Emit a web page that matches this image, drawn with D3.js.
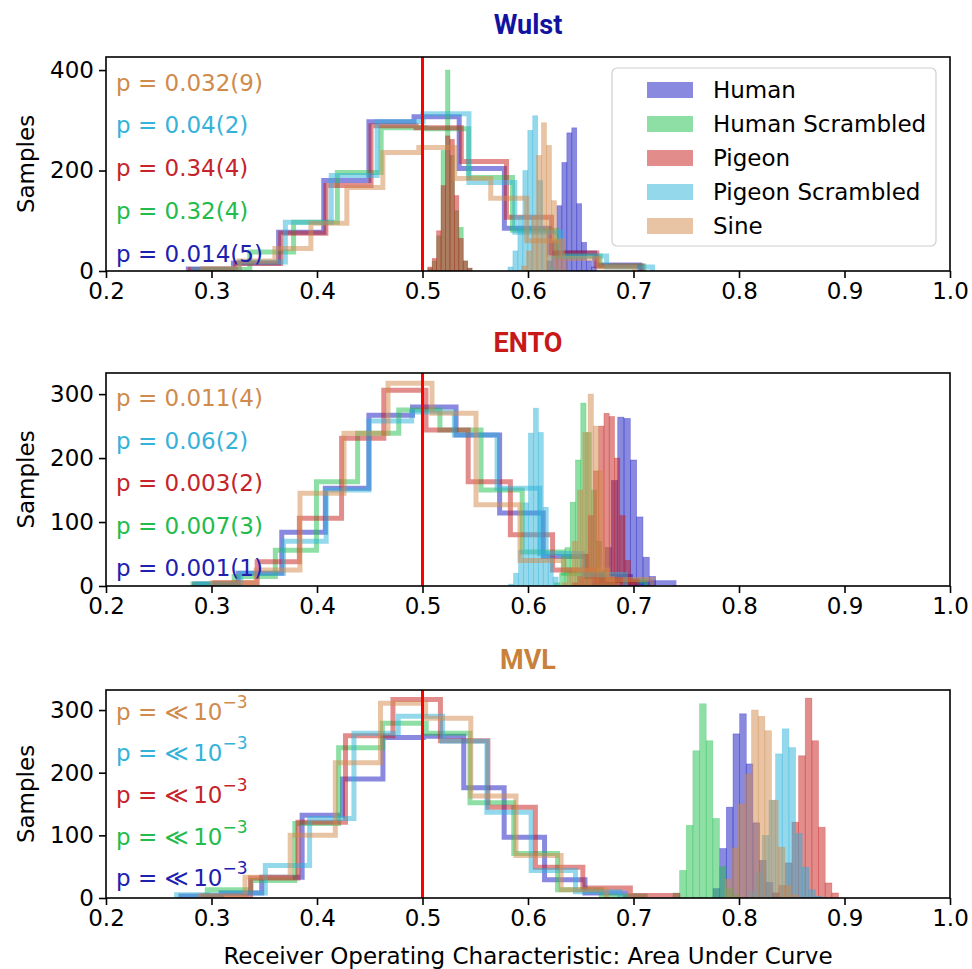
<!DOCTYPE html>
<html><head><meta charset="utf-8">
<script src="https://cdn.jsdelivr.net/npm/d3@7"></script>
<style>body{margin:0;background:#fff}</style>
</head><body><svg id="c" width="972" height="969"></svg>
<script>
// ---------- DATA ----------
const seriesNames = ["Human", "Human Scrambled", "Pigeon", "Pigeon Scrambled", "Sine"];
const regionNames = ["Wulst", "ENTO", "MVL"];
const xTickValues = [0.2, 0.3, 0.4, 0.5, 0.6, 0.7, 0.8, 0.9, 1.0];
const wulstYTicks = [0, 200, 400];
const entoYTicks = [0, 100, 200, 300];
const mvlYTicks = [0, 100, 200, 300];
const chanceLevel = 0.5;

// Null (scrambled-label) distributions: first bin edge, bin width, counts
const wulstNullStart = [0.278, 0.2948, 0.280, 0.283, 0.2919];
const wulstNullWidth = [0.0428, 0.0415, 0.0428, 0.0435, 0.0341];
const wulstNullCounts = [
  [4, 16, 77, 180, 297, 307, 204, 85, 36, 12],
  [3, 38, 97, 196, 285, 283, 186, 81, 30, 10],
  [3, 15, 75, 170, 289, 285, 218, 107, 36, 10],
  [3, 18, 97, 190, 297, 313, 176, 77, 30, 8],
  [5, 20, 45, 95, 166, 236, 246, 184, 145, 60, 25, 8]
];
// Real distributions
const wulstRealStart = [0.618, 0.505, 0.505, 0.581, 0.594];
const wulstRealWidth = [0.0047, 0.0042, 0.0042, 0.0047, 0.0047];
const wulstRealCounts = [
  [20, 60, 130, 216, 275, 285, 134, 57, 20, 8],
  [5, 20, 70, 240, 400, 230, 120, 87, 20, 5],
  [8, 25, 80, 170, 269, 262, 150, 65, 20, 6],
  [8, 40, 110, 200, 280, 309, 180, 80, 30, 8],
  [10, 40, 110, 230, 295, 250, 140, 60, 20]
];
const wulstPValues = ["0.014(5)", "0.32(4)", "0.34(4)", "0.04(2)", "0.032(9)"];

const entoNullStart = [0.284, 0.2825, 0.3033, 0.2872, 0.3005];
const entoNullWidth = [0.0413, 0.039, 0.040, 0.0405, 0.0417];
const entoNullCounts = [
  [3, 20, 84, 153, 267, 280, 236, 114, 46, 15, 5],
  [3, 15, 56, 163, 239, 275, 244, 150, 53, 20, 8],
  [5, 38, 106, 231, 306, 244, 163, 80, 25, 8],
  [3, 20, 70, 150, 258, 272, 236, 153, 51, 18],
  [5, 25, 145, 239, 317, 270, 127, 40, 25, 10]
];
const entoRealStart = [0.661, 0.625, 0.642, 0.5816, 0.632];
const entoRealWidth = [0.006, 0.005, 0.005, 0.0047, 0.005];
const entoRealCounts = [
  [5, 20, 60, 165, 264, 262, 197, 108, 45, 15],
  [5, 20, 60, 131, 197, 286, 240, 150, 70, 25, 8],
  [5, 15, 50, 110, 180, 250, 270, 265, 200, 110, 40, 10],
  [3, 20, 56, 130, 239, 278, 240, 123, 45, 14],
  [5, 20, 70, 150, 240, 300, 250, 180, 60, 15, 5]
];
const entoPValues = ["0.001(1)", "0.007(3)", "0.003(2)", "0.06(2)", "0.011(4)"];

const mvlNullStart = [0.271, 0.296, 0.292, 0.267, 0.289];
const mvlNullWidth = [0.0383, 0.0415, 0.045, 0.042, 0.0428];
const mvlNullCounts = [
  [3, 8, 33, 132, 190, 256, 258, 176, 97, 29, 8],
  [13, 28, 119, 240, 279, 263, 152, 71, 13, 3],
  [3, 32, 121, 259, 317, 251, 145, 49, 16, 4],
  [5, 8, 52, 127, 263, 290, 250, 137, 44, 10],
  [3, 33, 100, 216, 311, 287, 163, 68, 13]
];
const mvlRealStart = [0.7754, 0.7374, 0.8313, 0.8095, 0.7867];
const mvlRealWidth = [0.0063, 0.0063, 0.0063, 0.0063, 0.0063];
const mvlRealCounts = [
  [15, 79, 145, 262, 294, 214, 120, 60, 25, 8],
  [8, 44, 116, 235, 310, 251, 127, 50, 15, 5],
  [8, 20, 56, 121, 227, 319, 251, 113, 24, 8],
  [10, 40, 100, 156, 230, 270, 240, 103, 49, 13, 3],
  [30, 80, 150, 198, 300, 290, 267, 156, 81, 20, 5]
];
const mvlPValues = ["≪ 10^-3", "≪ 10^-3", "≪ 10^-3", "≪ 10^-3", "≪ 10^-3"];

// ---------- STYLE ----------
const seriesColors = ["#1414c0", "#1ec04b", "#c81919", "#29b1d9", "#d18949"];
const textColors = ["#2020b0", "#22bb4c", "#c4242a", "#35b2da", "#cf8a4c"];
const titleColors = ["#1212a0", "#c81919", "#c8813a"];
const FONT = "DejaVu Sans";
const FS = 23;

const svg = d3.select("#c");
const xLeft = 106, xRight = 950;
const x = d3.scaleLinear().domain([0.2, 1.0]).range([xLeft, xRight]);

const panels = [
  {top: 57, bottom: 271, ymax: 426, yTicks: wulstYTicks, ns: wulstNullStart, nw: wulstNullWidth, nc: wulstNullCounts,
   rs: wulstRealStart, rw: wulstRealWidth, rc: wulstRealCounts, p: wulstPValues, titleY: 25, pOff: 0.12, legend: true},
  {top: 373, bottom: 586, ymax: 333, yTicks: entoYTicks, ns: entoNullStart, nw: entoNullWidth, nc: entoNullCounts,
   rs: entoRealStart, rw: entoRealWidth, rc: entoRealCounts, p: entoPValues, titleY: 343, pOff: 0.117, legend: false},
  {top: 690, bottom: 898, ymax: 332, yTicks: mvlYTicks, ns: mvlNullStart, nw: mvlNullWidth, nc: mvlNullCounts,
   rs: mvlRealStart, rw: mvlRealWidth, rc: mvlRealCounts, p: mvlPValues, titleY: 660, pOff: 0.105, legend: false}
];

panels.forEach((P, pi) => {
  const y = d3.scaleLinear().domain([0, P.ymax]).range([P.bottom, P.top]);
  const g = svg.append("g");
  const clipId = "clip" + pi;
  svg.append("clipPath").attr("id", clipId).append("rect")
    .attr("x", xLeft).attr("y", P.top).attr("width", xRight - xLeft).attr("height", P.bottom - P.top);
  const plot = g.append("g").attr("clip-path", `url(#${clipId})`);

  seriesNames.forEach((name, si) => {
    // null step histogram
    const counts = P.nc[si];
    const edges = counts.map((c, k) => P.ns[si] + k * P.nw[si]).concat([P.ns[si] + counts.length * P.nw[si]]);
    const pts = [[edges[0], 0]];
    counts.forEach((c, k) => { pts.push([edges[k], c]); pts.push([edges[k + 1], c]); });
    pts.push([edges[edges.length - 1], 0]);
    plot.append("path")
      .attr("d", d3.line().x(d => x(d[0])).y(d => y(d[1]))(pts))
      .attr("fill", "none").attr("stroke", seriesColors[si]).attr("stroke-opacity", 0.5)
      .attr("stroke-width", 5).attr("stroke-linejoin", "miter");
    // real filled histogram
    const rc = P.rc[si];
    plot.append("g").selectAll("rect").data(rc).join("rect")
      .attr("x", (d, k) => x(P.rs[si] + k * P.rw[si]))
      .attr("width", (d, k) => x(P.rs[si] + (k + 1) * P.rw[si]) - x(P.rs[si] + k * P.rw[si]))
      .attr("y", d => y(d)).attr("height", d => y(0) - y(d))
      .attr("fill", seriesColors[si]).attr("fill-opacity", 0.5)
      .attr("stroke", seriesColors[si]).attr("stroke-opacity", 0.35).attr("stroke-width", 0.7);
  });

  // chance line
  plot.append("line").attr("x1", x(chanceLevel)).attr("x2", x(chanceLevel))
    .attr("y1", P.top).attr("y2", P.bottom).attr("stroke", "#ff0000").attr("stroke-width", 3);

  // axes
  const xa = g.append("g").attr("transform", `translate(0,${P.bottom})`)
    .call(d3.axisBottom(x).tickValues(xTickValues).tickFormat(d3.format(".1f")).tickSize(7).tickPadding(5).tickSizeOuter(0));
  const ya = g.append("g").attr("transform", `translate(${xLeft},0)`)
    .call(d3.axisLeft(y).tickValues(P.yTicks).tickSize(7).tickPadding(5).tickSizeOuter(0));
  [xa, ya].forEach(a => {
    a.select(".domain").remove();
    a.selectAll("line").attr("stroke", "#000").attr("stroke-width", 1.6);
    a.selectAll("text").attr("font-family", FONT).attr("font-size", FS).attr("fill", "#000");
  });
  g.append("rect").attr("x", xLeft).attr("y", P.top).attr("width", xRight - xLeft).attr("height", P.bottom - P.top)
    .attr("fill", "none").attr("stroke", "#000").attr("stroke-width", 1.6);

  g.append("text").attr("transform", `translate(26,${(P.top + P.bottom) / 2}) rotate(-90)`)
    .attr("text-anchor", "middle").attr("dominant-baseline", "central")
    .attr("font-family", FONT).attr("font-size", FS).text("Samples");

  // title
  g.append("text").attr("x", (xLeft + xRight) / 2).attr("y", P.titleY).attr("text-anchor", "middle")
    .attr("dominant-baseline", "central").attr("font-family", "Roboto").attr("font-weight", 700)
    .attr("font-size", 27).attr("fill", titleColors[pi]).text(regionNames[pi]);

  // p-values: drawn top to bottom in reverse series order
  const h = P.bottom - P.top;
  [4, 3, 2, 1, 0].forEach((si, row) => {
    const t = g.append("text").attr("x", 116).attr("y", P.top + h * (P.pOff + row * 0.2))
      .attr("dominant-baseline", "central").attr("font-family", FONT).attr("font-size", FS)
      .attr("fill", textColors[si]).attr("xml:space", "preserve");
    const val = P.p[si];
    if (val.indexOf("^") >= 0) {
      const parts = val.split("^");
      t.append("tspan").text("p = " + parts[0].replace(" ", "\u2009"));
      t.append("tspan").attr("dy", -10).attr("font-size", 17).text(parts[1].replace("-", "\u2212"));
    } else {
      t.text("p = " + val);
    }
  });

  if (P.legend) {
    const lg = g.append("g");
    lg.append("rect").attr("x", 612).attr("y", 68).attr("width", 324).attr("height", 178).attr("rx", 5)
      .attr("fill", "#fff").attr("fill-opacity", 0.8).attr("stroke", "#d0d0d0").attr("stroke-width", 1.2);
    seriesNames.forEach((name, si) => {
      const cy = 90 + si * 34;
      lg.append("rect").attr("x", 647).attr("y", cy - 8).attr("width", 46).attr("height", 16)
        .attr("fill", seriesColors[si]).attr("fill-opacity", 0.5);
      lg.append("text").attr("x", 713).attr("y", cy).attr("dominant-baseline", "central")
        .attr("font-family", FONT).attr("font-size", FS).text(name);
    });
  }
});

svg.append("text").attr("x", (xLeft + xRight) / 2).attr("y", 956).attr("text-anchor", "middle")
  .attr("dominant-baseline", "central").attr("font-family", FONT).attr("font-size", FS)
  .text("Receiver Operating Characteristic: Area Under Curve");
</script>
</body></html>
